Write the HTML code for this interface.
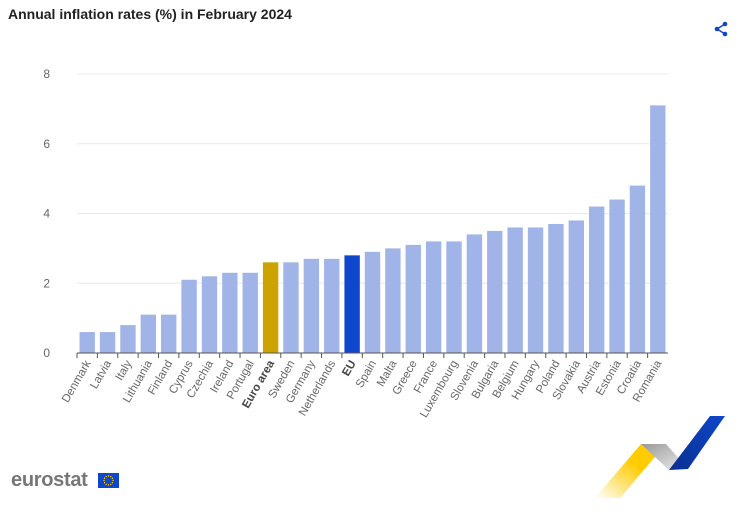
<!DOCTYPE html>
<html><head><meta charset="utf-8"><style>
body{margin:0;background:#fff;font-family:"Liberation Sans",sans-serif;}
#wrap{position:relative;width:744px;height:512px;overflow:hidden;}
</style></head><body>
<div id="wrap">
<div style="position:absolute;left:8px;top:6px;font-size:14px;font-weight:bold;color:#222;">Annual inflation rates (%) in February 2024</div>
<svg style="position:absolute;left:713px;top:21px" width="16" height="16" viewBox="0 0 16 16"><circle cx="12" cy="3" r="2.3" fill="#0e47cb"/><circle cx="4" cy="8" r="2.3" fill="#0e47cb"/><circle cx="12" cy="13" r="2.3" fill="#0e47cb"/><path d="M12 3L4 8L12 13" stroke="#0e47cb" stroke-width="1.5" fill="none"/></svg>
<svg id="chart" width="744" height="512" style="position:absolute;left:0;top:0"></svg>
<div style="position:absolute;left:11px;top:469px;font-size:20px;font-weight:bold;color:#777;letter-spacing:-0.3px;">eurostat</div>
<svg style="position:absolute;left:98px;top:473px" width="21" height="15"><rect width="21" height="15" fill="#0e47cb"/><g fill="#ffcc00" id="stars"></g></svg>
<svg style="position:absolute;left:585px;top:414px" width="145" height="86" viewBox="0 0 145 86">
<defs><linearGradient id="yg" x1="1" y1="0" x2="0" y2="1"><stop offset="0.4" stop-color="#ffcc00"/><stop offset="1" stop-color="#ffcc00" stop-opacity="0"/></linearGradient>
<linearGradient id="gg" x1="0" y1="0" x2="1" y2="1"><stop offset="0" stop-color="#999"/><stop offset="1" stop-color="#eee"/></linearGradient>
<linearGradient id="bg" x1="1" y1="0" x2="0" y2="1"><stop offset="0" stop-color="#0e47cb"/><stop offset="1" stop-color="#0a2f90"/></linearGradient></defs>
<polygon points="10,84 56,30 81,30 35,84" fill="url(#yg)"/>
<polygon points="56,30 81,30 103,55 84,56" fill="url(#gg)"/>
<polygon points="84,56 125,2 140,2 103,55" fill="url(#bg)"/>
</svg>
</div>
<script>
const categories=["Denmark","Latvia","Italy","Lithuania","Finland","Cyprus","Czechia","Ireland","Portugal","Euro area","Sweden","Germany","Netherlands","EU","Spain","Malta","Greece","France","Luxembourg","Slovenia","Bulgaria","Belgium","Hungary","Poland","Slovakia","Austria","Estonia","Croatia","Romania"];
const values=[0.6,0.6,0.8,1.1,1.1,2.1,2.2,2.3,2.3,2.6,2.6,2.7,2.7,2.8,2.9,3.0,3.1,3.2,3.2,3.4,3.5,3.6,3.6,3.7,3.8,4.2,4.4,4.8,7.1];
const yTicks=[0,2,4,6,8];
const NS="http://www.w3.org/2000/svg";
const svg=document.getElementById('chart');
const x0=77,x1=668,y0=353,y1=74,ymax=8;
const step=(x1-x0)/categories.length;
const xs=i=>x0+step*i;
const ys=v=>y0-(v/ymax)*(y0-y1);
function mk(t,a){const e=document.createElementNS(NS,t);for(const k in a)e.setAttribute(k,a[k]);svg.appendChild(e);return e;}
yTicks.forEach(t=>{
 if(t>0){const l=mk('line',{x1:x0,x2:x1,y1:ys(t),y2:ys(t),stroke:'#e6e9f5','stroke-width':1});
 
 }
 const tx=mk('text',{x:50,y:ys(t)+4,'text-anchor':'end','font-size':12,fill:'#666','font-family':'Liberation Sans'});
 tx.textContent=t;
 
 
});
categories.forEach((c,i)=>{
 const col=c==="Euro area"?'#cca300':(c==="EU"?'#0e47cb':'#a0b4e8');
 const r=mk('rect',{x:xs(i)+2.5,y:ys(values[i]),width:step-5,height:y0-ys(values[i]),fill:col});
 
 
 const tk=mk('line',{x1:xs(i),x2:xs(i),y1:y0,y2:y0+5,stroke:'#555'});
 
 
 const cx=xs(i)+step/2+4,cy=y0+10;
 const t=mk('text',{x:cx,y:cy,'text-anchor':'end','font-size':11.5,fill:'#666','font-family':'Liberation Sans',transform:`rotate(-60 ${cx} ${cy})`});
 if(c==="Euro area"||c==="EU"){t.setAttribute('font-weight','bold');t.setAttribute('fill','#444');}
 t.textContent=c;
 
 
});
const ax=mk('line',{x1:x0,x2:x1,y1:y0,y2:y0,stroke:'#555'});


const st=document.getElementById('stars');
for(let k=0;k<12;k++){const a=k*Math.PI/6;const c=document.createElementNS(NS,'circle');c.setAttribute('cx',10.5+4.5*Math.cos(a));c.setAttribute('cy',7.5+4.5*Math.sin(a));c.setAttribute('r',0.7);st.appendChild(c);}
</script>
</body></html>
